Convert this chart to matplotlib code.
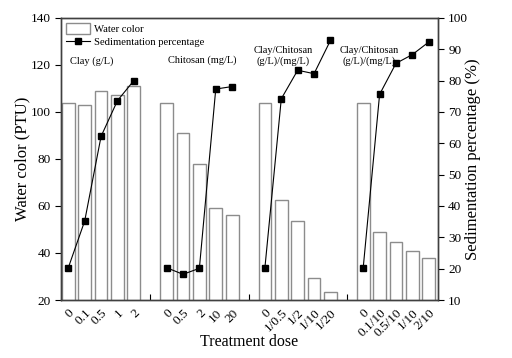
import matplotlib
matplotlib.use('Agg')
import matplotlib.pyplot as plt
import matplotlib.transforms as mtrans
import numpy as np

plt.rcParams['font.family'] = ['Liberation Serif', 'DejaVu Serif']

# dose labels for each group (separated by a blank tick)
dose_labels = ['0', '0.1', '0.5', '1', '2', '',
               '0', '0.5', '2', '10', '20', '',
               '0', '1/0.5', '1/2', '1/10', '1/20', '',
               '0', '0.1/10', '0.5/10', '1/10', '2/10']

# water color (PTU), per group
color_clay = [104, 103, 109, 107, 111]
color_chit = [104, 91, 78, 59, 56]
color_mix1 = [104, 62.5, 53.5, 29.5, 23.5]
color_mix2 = [104, 48.8, 44.8, 40.8, 37.8]

# sedimentation percentage (%), per group
sed_clay = [20.3, 35.2, 62.2, 73.6, 80.0]
sed_chit = [20.3, 18.2, 20.1, 77.3, 78.1]
sed_mix1 = [20.3, 74.2, 83.3, 82.2, 92.8]
sed_mix2 = [20.3, 75.6, 85.5, 88.3, 92.3]

group_titles = ['Clay (g/L)', 'Chitosan (mg/L)',
                'Clay/Chitosan\n(g/L)/(mg/L)', 'Clay/Chitosan\n(g/L)/(mg/L)']

colors = [color_clay, color_chit, color_mix1, color_mix2]
seds = [sed_clay, sed_chit, sed_mix1, sed_mix2]

fig = plt.figure(figsize=(5.12, 3.58), dpi=100)
ax = fig.add_axes([0.119, 0.162, 0.736, 0.788])
ax2 = ax.twinx()

starts = [0, 6, 12, 18]
edge = '#8c8c8c'
for k in range(4):
    xs = np.arange(starts[k], starts[k] + 5)
    bars = ax.bar(xs, colors[k], width=0.78, bottom=0, color='white',
                  edgecolor=edge, linewidth=1.0, zorder=2)
    line, = ax2.plot(xs, seds[k], color='black', linewidth=0.8, marker='s',
                     markersize=4, zorder=3)

ax.set_ylim(20, 140)
ax.set_yticks(np.arange(20, 141, 20))
ax2.set_ylim(10, 100)
ax2.set_yticks(np.arange(10, 101, 10))
ax.set_xlim(-0.45, 22.55)
ax.set_xticks(np.arange(len(dose_labels)))
ax.set_xticklabels(dose_labels, rotation=45, ha='right', fontsize=9.5,
                   rotation_mode='anchor')
# shift rotated labels a little to the right, like the original
shift = mtrans.ScaledTranslation(4 / 72, 0, fig.dpi_scale_trans)
for lab in ax.get_xticklabels():
    lab.set_transform(lab.get_transform() + shift)

ax.tick_params(axis='x', direction='in', length=4, pad=5)
ax.tick_params(axis='y', direction='out', length=4, labelsize=9.5)
ax2.tick_params(axis='y', direction='out', length=4, labelsize=9.5)

for a in (ax, ax2):
    for s in a.spines.values():
        s.set_color('#404040')
        s.set_linewidth(1.0)

ax.set_ylabel('Water color (PTU)', fontsize=12, labelpad=0)
ax2.set_ylabel('Sedimentation percentage (%)', fontsize=12, labelpad=-2)
ax.set_xlabel('Treatment dose', fontsize=11.5, labelpad=-4)

# group annotations
title_pos = [(1.43, 121.7), (8.17, 122), (13.1, 123.8), (18.35, 123.8)]
for (tx, ty), t in zip(title_pos, group_titles):
    ax.text(tx, ty, t, ha='center', va='center', fontsize=7.5,
            linespacing=1.15, zorder=1)

ax.set_zorder(ax2.get_zorder() - 1)
ax.patch.set_visible(False)
ax2.patch.set_visible(True)
ax2.patch.set_alpha(0)

ax2.legend([bars, line], ['Water color', 'Sedimentation percentage'],
           loc='upper left', bbox_to_anchor=(0.0, 1.0), frameon=False,
           fontsize=7.7, handlelength=2.25, handleheight=1.1,
           handletextpad=0.3, borderaxespad=0.3, borderpad=0.2,
           labelspacing=0.2)

fig.savefig('out.png', dpi=100)
